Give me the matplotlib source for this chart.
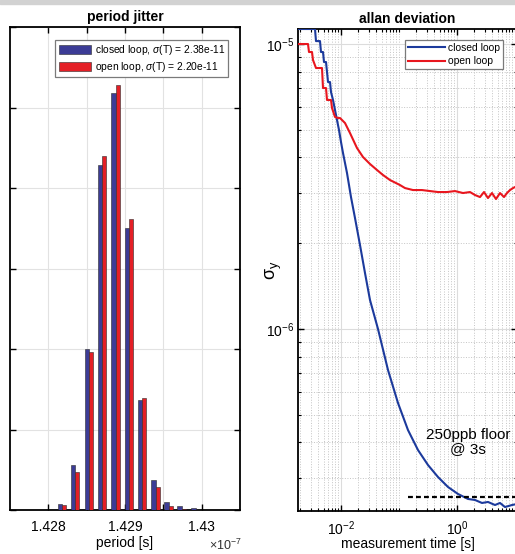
import numpy as np
import matplotlib
matplotlib.use("Agg")
import matplotlib.pyplot as plt
from matplotlib.ticker import FixedLocator, LogLocator, NullFormatter, LogFormatterSciNotation
from matplotlib.patches import Rectangle

plt.rcParams['font.family'] = ['Liberation Sans', 'DejaVu Sans']
plt.rcParams['mathtext.fontset'] = 'custom'
plt.rcParams['mathtext.rm'] = 'Liberation Sans'
plt.rcParams['mathtext.it'] = 'Liberation Sans:italic'
plt.rcParams['xtick.direction'] = 'in'
plt.rcParams['ytick.direction'] = 'in'
plt.rcParams['xtick.top'] = True
plt.rcParams['ytick.right'] = True

# period histogram (period in units of 1e-7 s)
bin_centers = [1.42818, 1.42835, 1.42853, 1.42870, 1.42888, 1.42905,
               1.42922, 1.42940, 1.42957, 1.42974, 1.42992]
closed_counts = [78, 559, 2000, 4286, 5184, 3503, 1366, 373, 99, 50, 19]
open_counts = [66, 472, 1966, 4398, 5276, 3615, 1395, 290, 50, 12, 6]
closed_label = r'closed loop, $\sigma$(T) = 2.38e-11'
open_label = r'open loop, $\sigma$(T) = 2.20e-11'

# allan deviation
tau_closed = [1.814e-3, 3.562e-3, 3.707e-3, 4.344e-3, 4.520e-3, 4.895e-3, 5.093e-3,
              5.515e-3, 5.739e-3, 5.971e-3, 6.463e-3, 6.725e-3, 7.281e-3, 7.882e-3,
              8.532e-3, 9.236e-3, 1.000e-2, 1.083e-2, 1.172e-2, 1.269e-2, 1.374e-2,
              1.487e-2, 1.743e-2, 2.126e-2, 2.593e-2, 3.162e-2, 4.345e-2, 6.462e-2,
              9.611e-2, 0.1429, 0.2126, 0.3162, 0.4704, 0.6996, 1.040, 1.547, 2.044,
              2.698, 3.424, 4.520, 5.515, 6.725, 8.877, 10.83]
adev_closed = [1.129e-5, 1.129e-5, 1.024e-5, 1.024e-5, 9.374e-6, 9.374e-6, 8.646e-6,
               8.646e-6, 7.976e-6, 7.356e-6, 7.356e-6, 6.786e-6, 6.362e-6, 5.868e-6,
               5.412e-6, 4.992e-6, 4.530e-6, 4.145e-6, 3.824e-6, 3.527e-6, 3.200e-6,
               2.904e-6, 2.452e-6, 1.971e-6, 1.572e-6, 1.264e-6, 1.000e-6, 7.179e-7,
               5.499e-7, 4.420e-7, 3.761e-7, 3.332e-7, 3.024e-7, 2.790e-7, 2.637e-7,
               2.533e-7, 2.512e-7, 2.452e-7, 2.472e-7, 2.412e-7, 2.452e-7, 2.373e-7,
               2.412e-7, 2.432e-7]
tau_open = [1.814e-3, 2.698e-3, 2.807e-3, 3.162e-3, 3.290e-3, 3.707e-3, 4.704e-3,
            4.895e-3, 5.515e-3, 5.739e-3, 6.725e-3, 6.998e-3, 7.882e-3, 8.877e-3,
            9.611e-3, 1.172e-2, 1.429e-2, 1.887e-2, 2.395e-2, 3.162e-2, 4.176e-2,
            5.298e-2, 6.996e-2, 0.1040, 0.1269, 0.1743, 0.2493, 0.3424, 0.4704,
            0.6725, 0.9236, 1.269, 1.675, 2.044, 2.493, 2.921, 3.424, 4.013, 4.704,
            5.515, 6.463, 7.281, 8.204, 9.236, 10.83]
adev_open = [1.000e-5, 1.000e-5, 9.374e-6, 9.374e-6, 8.789e-6, 8.237e-6, 8.237e-6,
             7.008e-6, 7.008e-6, 6.362e-6, 6.362e-6, 5.963e-6, 5.545e-6, 5.500e-6,
             5.500e-6, 5.282e-6, 4.872e-6, 4.316e-6, 4.013e-6, 3.793e-6, 3.613e-6,
             3.470e-6, 3.332e-6, 3.200e-6, 3.123e-6, 3.073e-6, 3.073e-6, 3.048e-6,
             3.024e-6, 3.024e-6, 3.048e-6, 3.000e-6, 3.024e-6, 2.952e-6, 2.904e-6,
             3.024e-6, 2.881e-6, 3.000e-6, 2.858e-6, 3.000e-6, 2.904e-6, 3.000e-6,
             3.073e-6, 3.123e-6, 3.174e-6]
floor_tau = [0.1429, 10.83]
floor_level = 2.57e-7
floor_text = '250ppb floor\n@ 3s'

bar_blue = '#3c3c96'
bar_red = '#e41f26'
line_blue = '#1c3a9c'
line_red = '#e8161e'

fig = plt.figure(figsize=(5.15, 5.54), dpi=100)
fig.patches.append(Rectangle((0, 1 - 4 / 554), 1, 4 / 554, transform=fig.transFigure,
                             color='#d2d2d2', zorder=-1))

# ---- left: period jitter histogram
ax1 = fig.add_axes([10 / 515, 44 / 554, 230 / 515, 483 / 554])
step = bin_centers[1] - bin_centers[0]
w = 0.33 * step
x = np.array(bin_centers)
ax1.bar(x - w / 2, closed_counts, width=w, color=bar_blue, edgecolor='#2a2a2a',
        linewidth=0.4, label=closed_label, zorder=3)
ax1.bar(x + w / 2, open_counts, width=w, color=bar_red, edgecolor='#2a2a2a',
        linewidth=0.4, label=open_label, zorder=3)
ax1.set_xlim(1.4275, 1.4305)
ax1.set_ylim(0, 6000)
ax1.set_xticks([1.428, 1.4285, 1.429, 1.4295, 1.43])
ax1.set_xticklabels(['1.428', '', '1.429', '', '1.43'])
ax1.set_yticks(np.arange(0, 6001, 1000))
ax1.tick_params(labelleft=False, labelsize=10, length=4, width=1, pad=7)
ax1.grid(True, color='#e2e2e2', linewidth=0.8, zorder=0)
ax1.set_axisbelow(True)
ax1.set_xlabel('period [s]', fontsize=10, labelpad=2)
ax1.set_title('period jitter', fontweight='bold', fontsize=10, pad=4)
ax1.text(1.01, -0.058, r'$\times10^{-7}$', transform=ax1.transAxes,
         ha='right', va='top', fontsize=9, color='#333333')
for s in ax1.spines.values():
    s.set_linewidth(1.3)
leg1 = ax1.legend(loc='upper right', bbox_to_anchor=(0.948, 0.973), borderaxespad=0,
                  fontsize=7.4, handlelength=3.2, handleheight=0.95, handletextpad=0.3,
                  labelspacing=0.3, borderpad=0.3, fancybox=False, framealpha=1)
leg1.get_frame().set_edgecolor('#7a7a7a')
leg1.get_frame().set_linewidth(0.9)

# ---- right: allan deviation
ax2 = fig.add_axes([298 / 515, 43 / 554, 219 / 515, 482 / 554])
ax2.plot(tau_closed, adev_closed, color=line_blue, linewidth=1.5, label='closed loop', zorder=3)
ax2.plot(tau_open, adev_open, color=line_red, linewidth=1.5, label='open loop', zorder=3)
ax2.plot(floor_tau, [floor_level, floor_level], color='black', linestyle=(0, (2.2, 1.4)),
         linewidth=1.6, zorder=4)
ax2.text(1.547, 4.02e-7, floor_text, ha='center', va='center', fontsize=11,
         linespacing=1.05, zorder=5)
ax2.set_xscale('log')
ax2.set_yscale('log')
ax2.set_xlim(1.814e-3, 10.83)
ax2.set_ylim(2.298e-7, 1.129e-5)
ax2.xaxis.set_major_locator(FixedLocator([1e-2, 1e0]))
ax2.xaxis.set_major_formatter(LogFormatterSciNotation())
ax2.xaxis.set_minor_locator(LogLocator(base=10, subs=np.arange(1, 10), numticks=30))
ax2.xaxis.set_minor_formatter(NullFormatter())
ax2.yaxis.set_major_locator(FixedLocator([1e-6, 1e-5]))
ax2.yaxis.set_major_formatter(LogFormatterSciNotation())
ax2.yaxis.set_minor_locator(LogLocator(base=10, subs=np.arange(1, 10), numticks=30))
ax2.yaxis.set_minor_formatter(NullFormatter())
ax2.tick_params(which='major', labelsize=10, length=4, width=1)
ax2.tick_params(which='minor', length=2.2, width=0.8)
ax2.tick_params(axis='x', pad=6)
ax2.tick_params(axis='y', pad=3)
ax2.grid(True, which='major', color='#dcdcdc', linewidth=0.8, linestyle='-')
ax2.grid(True, which='minor', color='#c4c4c4', linewidth=0.7, linestyle=':')
ax2.set_axisbelow(True)
ax2.set_xlabel('measurement time [s]', fontsize=10, labelpad=-1)
ax2.set_ylabel(r'σ$_{\mathrm{y}}$', fontsize=13)
ax2.yaxis.set_label_coords(-0.063, 0.5)
ax2.set_title('allan deviation', fontweight='bold', fontsize=10, pad=4.5)
for s in ax2.spines.values():
    s.set_linewidth(1.3)
leg2 = ax2.legend(loc='upper right', bbox_to_anchor=(1 - 14 / 219, 1 - 11 / 482),
                  borderaxespad=0, fontsize=7.4, handlelength=3.6, handletextpad=0.3,
                  labelspacing=0.3, borderpad=0.3, fancybox=False, framealpha=1)
leg2.get_frame().set_edgecolor('#7a7a7a')
leg2.get_frame().set_linewidth(0.9)

fig.savefig('out.png', dpi=100)
